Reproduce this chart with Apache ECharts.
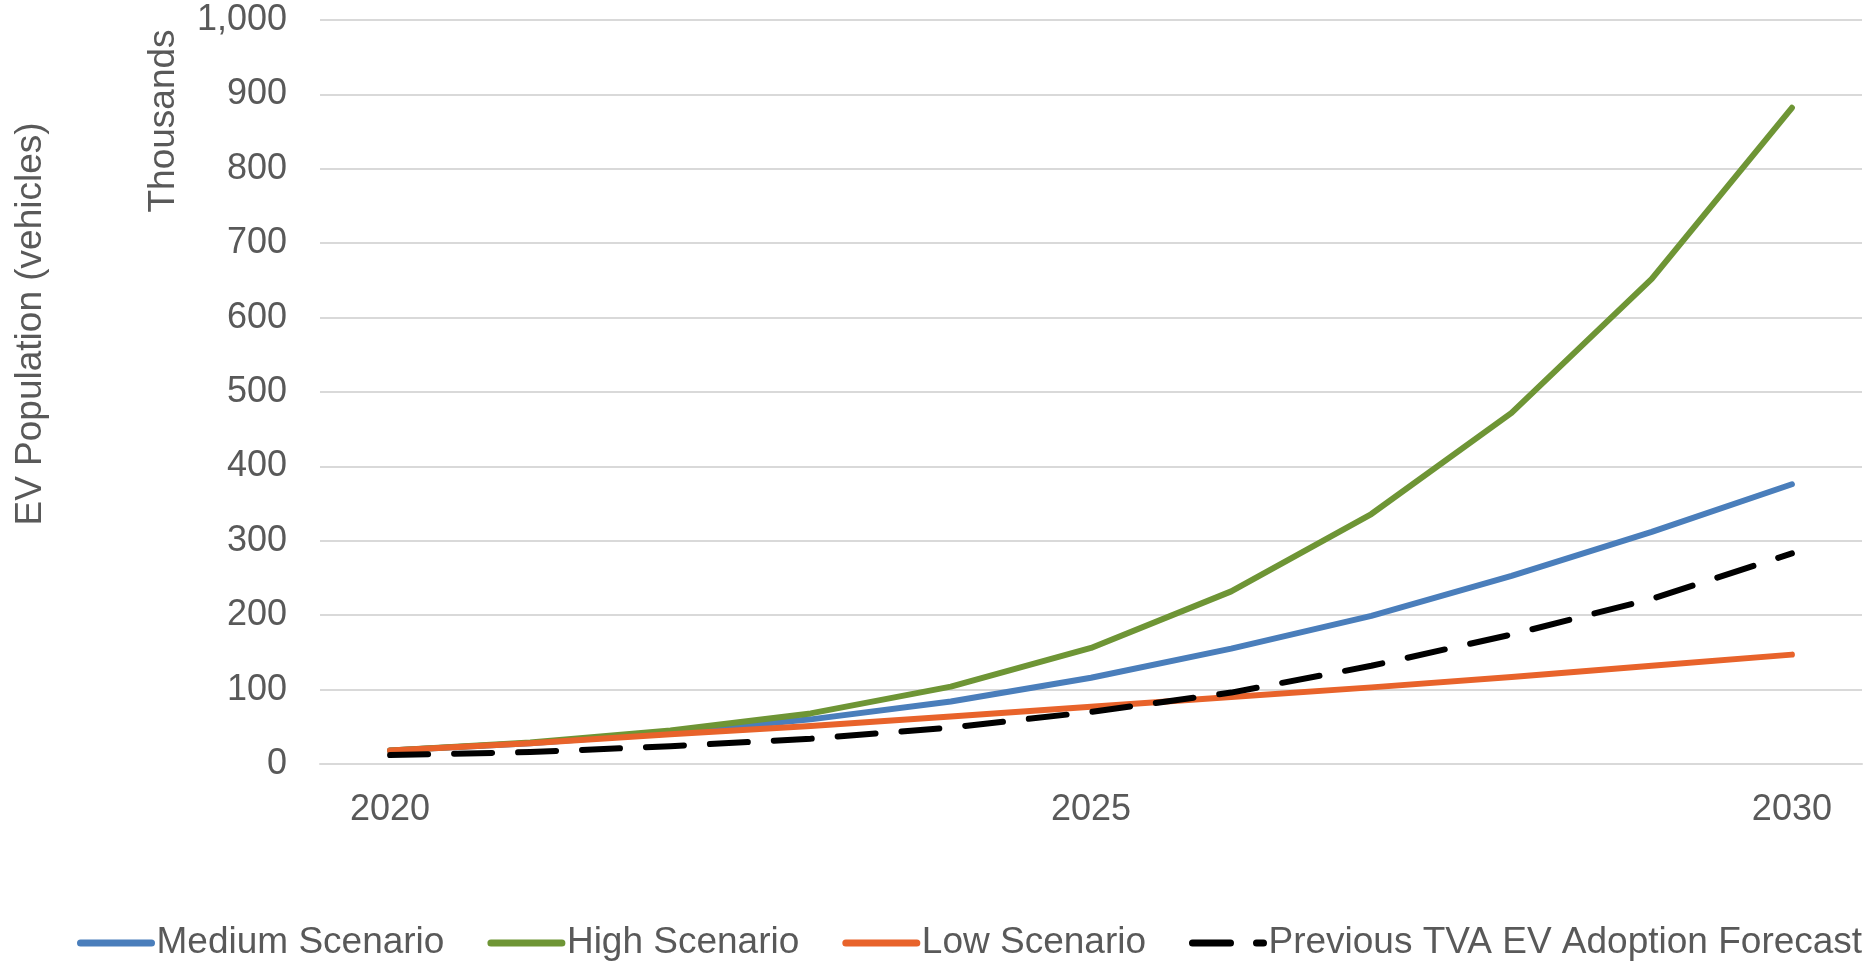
<!DOCTYPE html>
<html>
<head>
<meta charset="utf-8">
<title>EV Population Forecast</title>
<script src="https://cdn.jsdelivr.net/npm/echarts@6/dist/echarts.min.js"></script>
<style>
  html, body { margin: 0; padding: 0; background: #ffffff; }
  #chart { width: 1875px; height: 963px; }
</style>
</head>
<body>
<div id="chart"></div>
<script>
// Years on the category axis
const years = ['2020', '2021', '2022', '2023', '2024', '2025', '2026', '2027', '2028', '2029', '2030'];

// EV population, thousands of vehicles
const mediumScenario = [18, 28, 42, 60, 84, 116, 155, 199, 253, 312, 376];
const highScenario   = [18, 29, 45, 68, 104, 156, 232, 336, 472, 652, 882];
const lowScenario    = [18, 28, 40, 51, 64, 77, 90, 103, 117, 132, 147];
const previousTVA    = [12, 16, 24, 34, 49, 70, 96, 132, 174, 222, 283];

const seriesNames = ['Medium Scenario', 'High Scenario', 'Low Scenario', 'Previous TVA EV Adoption Forecast'];

const FONT = '"Liberation Sans", Arial, sans-serif';
const TEXT_COLOR = '#595959';
const GRID_COLOR = '#D9D9D9';

const chart = echarts.init(document.getElementById('chart'), null, { renderer: 'canvas' });

function lineSeries(name, data, color, dashed) {
  return {
    name: name,
    type: 'line',
    data: data,
    symbol: 'none',
    smooth: false,
    lineStyle: {
      color: color,
      width: 6,
      type: dashed ? [38, 26] : 'solid',
      cap: 'round',
      join: 'round'
    },
    itemStyle: { color: color },
    emphasis: { disabled: true }
  };
}

chart.setOption({
  animation: false,
  backgroundColor: '#ffffff',
  textStyle: { fontFamily: FONT },
  grid: { left: 320, right: 13, top: 20, bottom: 199, containLabel: false },
  legend: {
    data: seriesNames,
    left: 72,
    right: 0,
    top: 916,
    itemGap: 43,
    itemWidth: 71,
    itemHeight: 14,
    lineStyle: { width: 7 },
    itemStyle: { opacity: 0 },
    textStyle: { fontFamily: FONT, fontSize: 37, color: TEXT_COLOR, lineHeight: 44 }
  },
  xAxis: {
    type: 'category',
    data: years,
    boundaryGap: true,
    axisLine: { show: true, lineStyle: { color: GRID_COLOR, width: 2 } },
    axisTick: { show: false },
    axisLabel: {
      interval: 4,
      margin: 28,
      fontFamily: FONT,
      fontSize: 36,
      color: TEXT_COLOR
    },
    splitLine: { show: false }
  },
  yAxis: {
    type: 'value',
    min: 0,
    max: 1000,
    interval: 100,
    axisLine: { show: false },
    axisTick: { show: false },
    axisLabel: {
      margin: 33,
      fontFamily: FONT,
      fontSize: 36,
      color: TEXT_COLOR,
      formatter: function (v) { return v.toLocaleString('en-US'); }
    },
    splitLine: { show: true, lineStyle: { color: GRID_COLOR, width: 2 } }
  },
  graphic: [
    {
      type: 'text',
      x: 31,
      y: 324,
      rotation: Math.PI / 2,
      style: {
        text: 'EV Population (vehicles)',
        font: '37px ' + FONT,
        fill: TEXT_COLOR,
        textAlign: 'center',
        textVerticalAlign: 'middle'
      }
    },
    {
      type: 'text',
      x: 164,
      y: 121,
      rotation: Math.PI / 2,
      style: {
        text: 'Thousands',
        font: '37px ' + FONT,
        fill: TEXT_COLOR,
        textAlign: 'center',
        textVerticalAlign: 'middle'
      }
    }
  ],
  series: [
    lineSeries(seriesNames[0], mediumScenario, '#4A7EBB', false),
    lineSeries(seriesNames[1], highScenario, '#6E9535', false),
    lineSeries(seriesNames[2], lowScenario, '#E8632B', false),
    lineSeries(seriesNames[3], previousTVA, '#000000', true)
  ]
});
</script>
</body>
</html>
